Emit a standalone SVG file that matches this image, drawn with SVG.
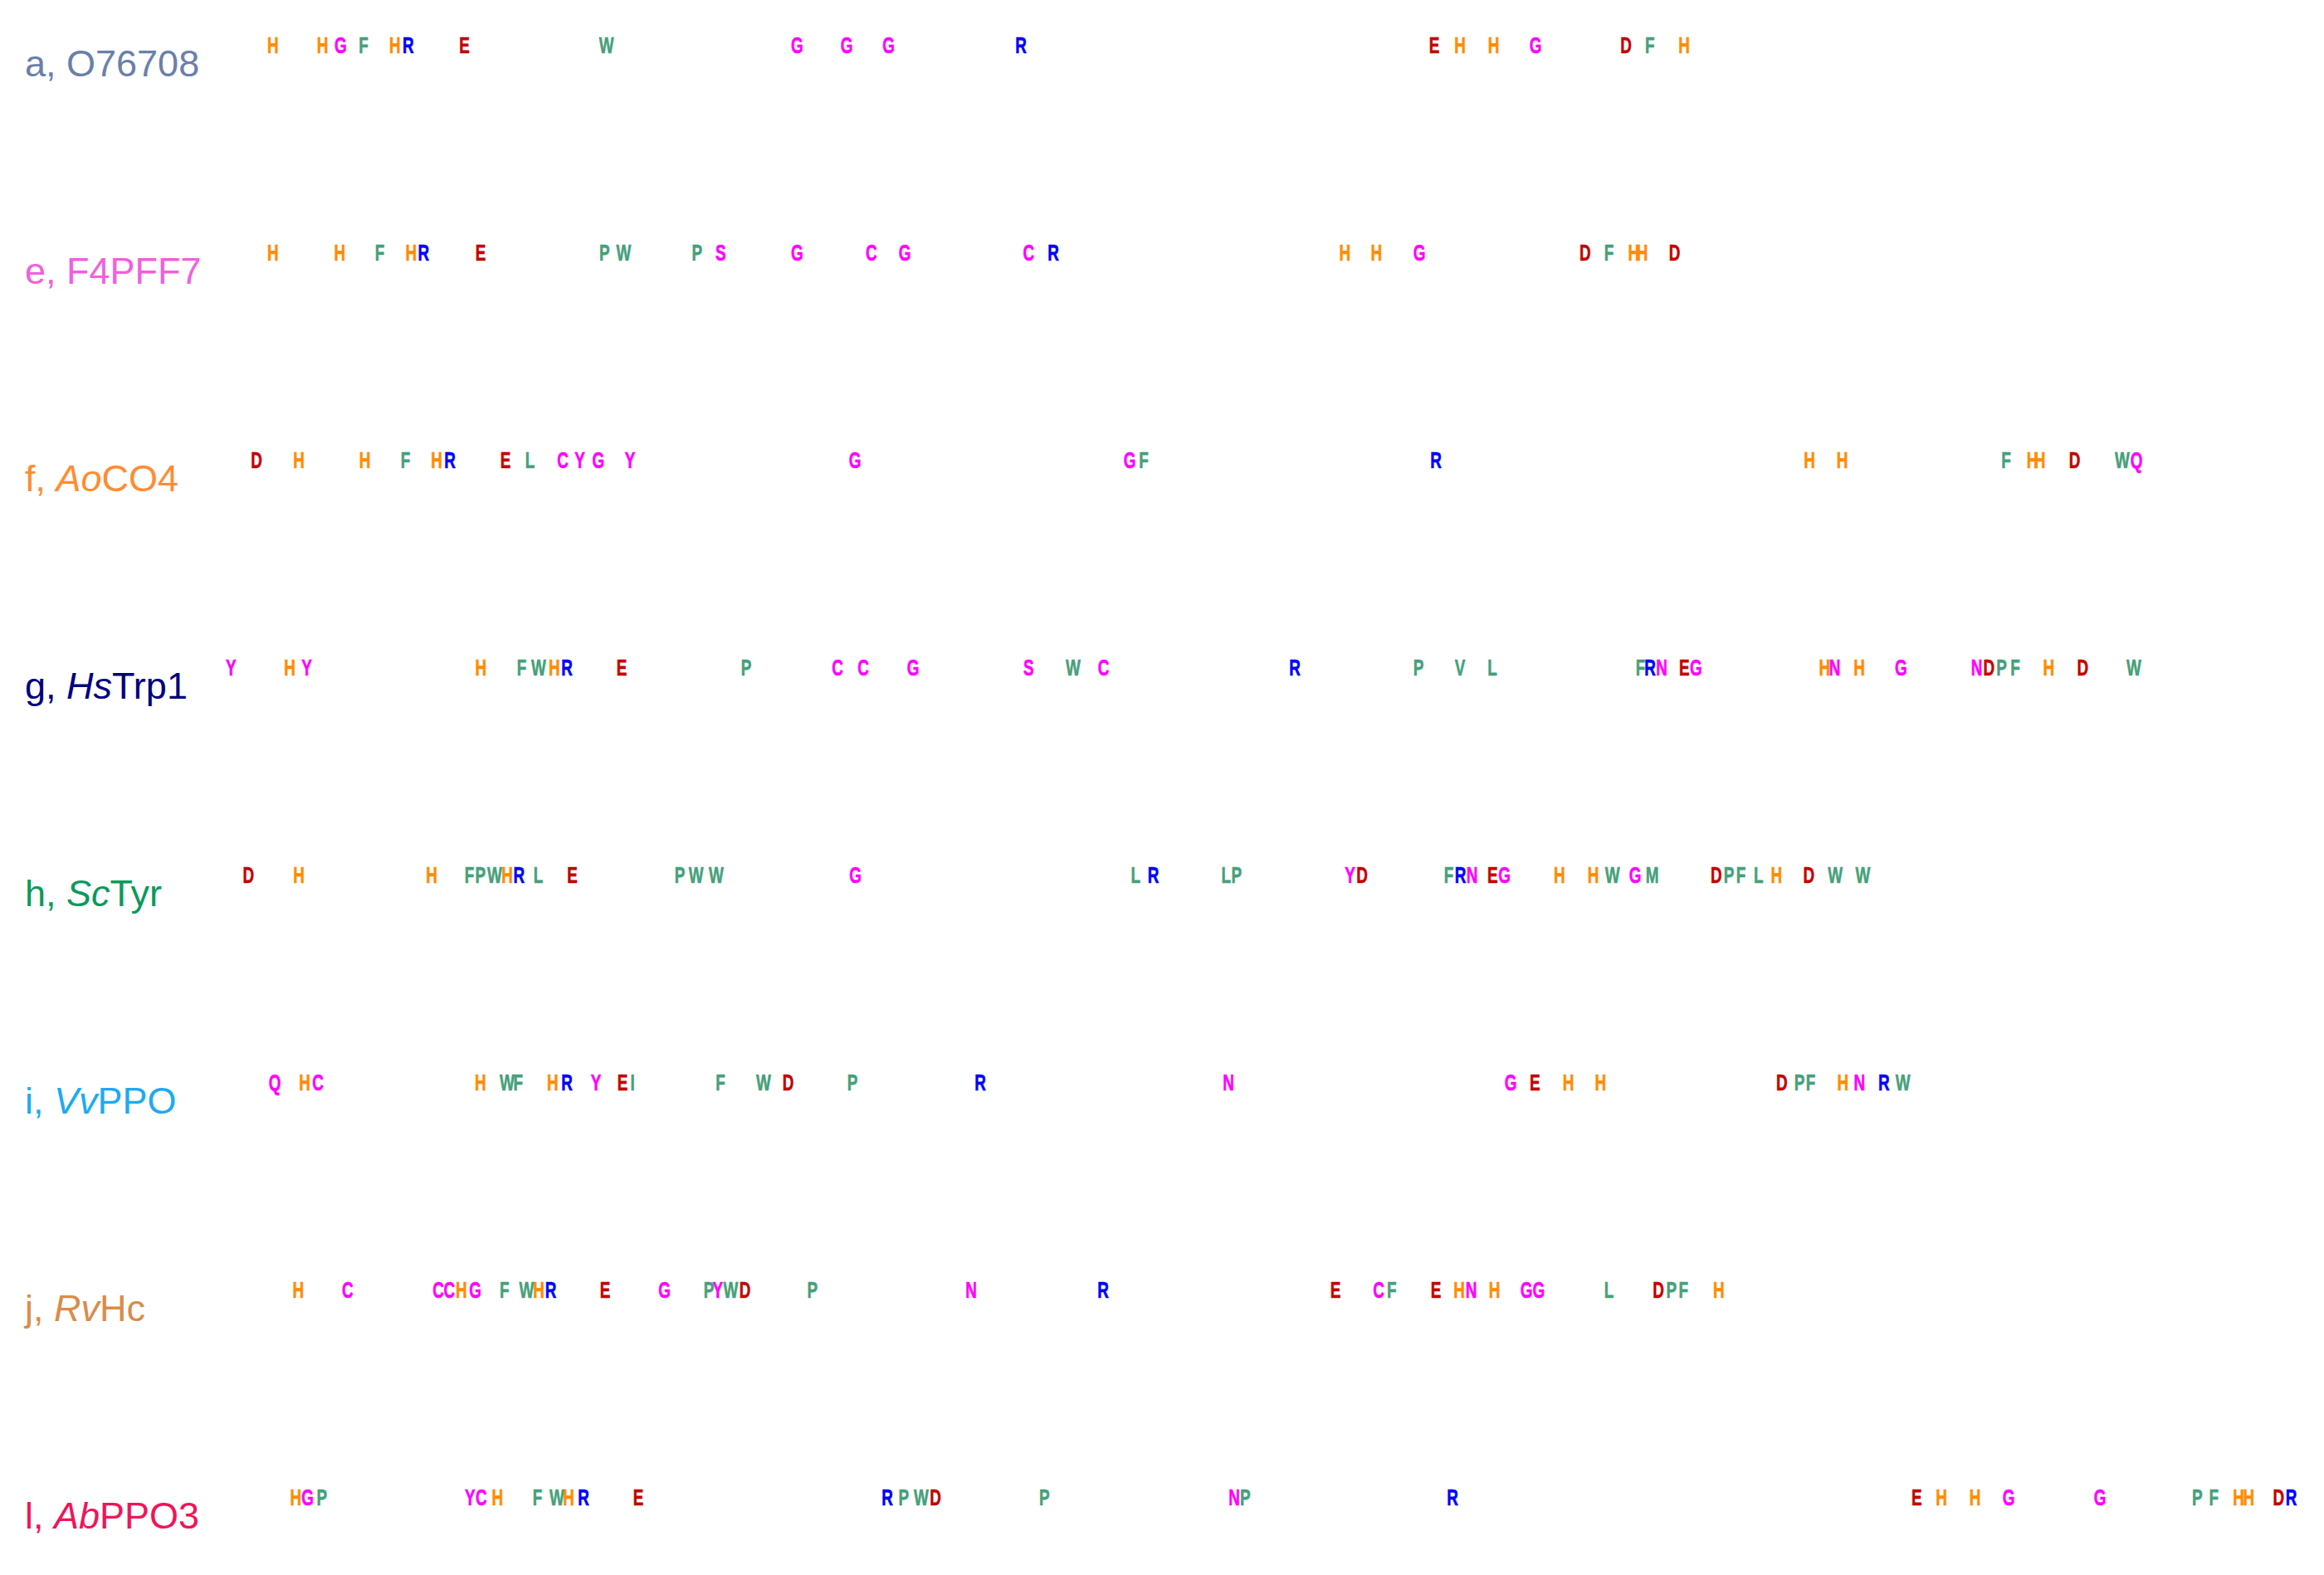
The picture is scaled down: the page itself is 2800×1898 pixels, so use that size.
<svg xmlns="http://www.w3.org/2000/svg" width="2800" height="1898" viewBox="0 0 2800 1898">
<style>
.lab{font-family:"Liberation Sans",Arial,sans-serif;font-size:45px}
.i{font-style:italic}
g.row text.o,g.row text.m,g.row text.g,g.row text.b,g.row text.r{font-family:"Liberation Sans",Arial,sans-serif;font-weight:bold;font-size:27px;text-anchor:middle;stroke-width:0.6px}
.o{fill:#FF8C00;stroke:#FF8C00}.m{fill:#FF00FF;stroke:#FF00FF}.g{fill:#46A07A;stroke:#46A07A}.b{fill:#0000FF;stroke:#0000FF}.r{fill:#C40000;stroke:#C40000}
</style>
<rect width="2800" height="1898" fill="#FFFFFF"/>
<g id="row-a" class="row">
<text class="lab" x="30" y="92" fill="#6A80AA" stroke="none">a, O76708</text>
<text class="o" transform="translate(328.9 64) scale(0.7 1)">H</text>
<text class="o" transform="translate(388.6 64) scale(0.7 1)">H</text>
<text class="m" transform="translate(410.4 64) scale(0.7 1)">G</text>
<text class="g" transform="translate(438 64) scale(0.7 1)">F</text>
<text class="o" transform="translate(475.8 64) scale(0.7 1)">H</text>
<text class="b" transform="translate(491.9 64) scale(0.7 1)">R</text>
<text class="r" transform="translate(559.6 64) scale(0.7 1)">E</text>
<text class="g" transform="translate(730.7 64) scale(0.7 1)">W</text>
<text class="m" transform="translate(960.3 64) scale(0.7 1)">G</text>
<text class="m" transform="translate(1020 64) scale(0.7 1)">G</text>
<text class="m" transform="translate(1070.5 64) scale(0.7 1)">G</text>
<text class="b" transform="translate(1230 64) scale(0.7 1)">R</text>
<text class="r" transform="translate(1728 64) scale(0.7 1)">E</text>
<text class="o" transform="translate(1759 64) scale(0.7 1)">H</text>
<text class="o" transform="translate(1799.5 64) scale(0.7 1)">H</text>
<text class="m" transform="translate(1850 64) scale(0.7 1)">G</text>
<text class="r" transform="translate(1959 64) scale(0.7 1)">D</text>
<text class="g" transform="translate(1987.7 64) scale(0.7 1)">F</text>
<text class="o" transform="translate(2029 64) scale(0.7 1)">H</text>
</g>
<g id="row-e" class="row">
<text class="lab" x="30" y="342" fill="#F060DC">e, F4PFF7</text>
<text class="o" transform="translate(328.9 314) scale(0.7 1)">H</text>
<text class="o" transform="translate(409.2 314) scale(0.7 1)">H</text>
<text class="g" transform="translate(457.5 314) scale(0.7 1)">F</text>
<text class="o" transform="translate(495.3 314) scale(0.7 1)">H</text>
<text class="b" transform="translate(510.3 314) scale(0.7 1)">R</text>
<text class="r" transform="translate(579.1 314) scale(0.7 1)">E</text>
<text class="g" transform="translate(728.4 314) scale(0.7 1)">P</text>
<text class="g" transform="translate(751.3 314) scale(0.7 1)">W</text>
<text class="g" transform="translate(839.7 314) scale(0.7 1)">P</text>
<text class="m" transform="translate(868.4 314) scale(0.7 1)">S</text>
<text class="m" transform="translate(960.3 314) scale(0.7 1)">G</text>
<text class="m" transform="translate(1049.8 314) scale(0.7 1)">C</text>
<text class="m" transform="translate(1090 314) scale(0.7 1)">G</text>
<text class="m" transform="translate(1239.2 314) scale(0.7 1)">C</text>
<text class="b" transform="translate(1269 314) scale(0.7 1)">R</text>
<text class="o" transform="translate(1620.4 314) scale(0.7 1)">H</text>
<text class="o" transform="translate(1658.3 314) scale(0.7 1)">H</text>
<text class="m" transform="translate(1710 314) scale(0.7 1)">G</text>
<text class="r" transform="translate(1909.7 314) scale(0.7 1)">D</text>
<text class="g" transform="translate(1938.4 314) scale(0.7 1)">F</text>
<text class="o" transform="translate(1968.2 314) scale(0.7 1)">H</text>
<text class="o" transform="translate(1978.6 314) scale(0.7 1)">H</text>
<text class="r" transform="translate(2017.6 314) scale(0.7 1)">D</text>
</g>
<g id="row-f" class="row">
<text class="lab" x="30" y="592" fill="#FF8C32">f, <tspan class="i">Ao</tspan>CO4</text>
<text class="r" transform="translate(309 564) scale(0.7 1)">D</text>
<text class="o" transform="translate(360 564) scale(0.7 1)">H</text>
<text class="o" transform="translate(439.5 564) scale(0.7 1)">H</text>
<text class="g" transform="translate(488.6 564) scale(0.7 1)">F</text>
<text class="o" transform="translate(526 564) scale(0.7 1)">H</text>
<text class="b" transform="translate(542 564) scale(0.7 1)">R</text>
<text class="r" transform="translate(609 564) scale(0.7 1)">E</text>
<text class="g" transform="translate(638.6 564) scale(0.7 1)">L</text>
<text class="m" transform="translate(678 564) scale(0.7 1)">C</text>
<text class="m" transform="translate(698.5 564) scale(0.7 1)">Y</text>
<text class="m" transform="translate(720.8 564) scale(0.7 1)">G</text>
<text class="m" transform="translate(759 564) scale(0.7 1)">Y</text>
<text class="m" transform="translate(1030 564) scale(0.7 1)">G</text>
<text class="m" transform="translate(1361 564) scale(0.7 1)">G</text>
<text class="g" transform="translate(1378 564) scale(0.7 1)">F</text>
<text class="b" transform="translate(1730 564) scale(0.7 1)">R</text>
<text class="o" transform="translate(2180 564) scale(0.7 1)">H</text>
<text class="o" transform="translate(2219.5 564) scale(0.7 1)">H</text>
<text class="g" transform="translate(2417 564) scale(0.7 1)">F</text>
<text class="o" transform="translate(2448.5 564) scale(0.7 1)">H</text>
<text class="o" transform="translate(2457.5 564) scale(0.7 1)">H</text>
<text class="r" transform="translate(2499.6 564) scale(0.7 1)">D</text>
<text class="g" transform="translate(2557 564) scale(0.7 1)">W</text>
<text class="m" transform="translate(2574 564) scale(0.7 1)">Q</text>
</g>
<g id="row-g" class="row">
<text class="lab" x="30" y="842" fill="#000080">g, <tspan class="i">Hs</tspan>Trp1</text>
<text class="m" transform="translate(278.4 814) scale(0.7 1)">Y</text>
<text class="o" transform="translate(349 814) scale(0.7 1)">H</text>
<text class="m" transform="translate(369.5 814) scale(0.7 1)">Y</text>
<text class="o" transform="translate(579.3 814) scale(0.7 1)">H</text>
<text class="g" transform="translate(628.5 814) scale(0.7 1)">F</text>
<text class="g" transform="translate(649 814) scale(0.7 1)">W</text>
<text class="o" transform="translate(667.7 814) scale(0.7 1)">H</text>
<text class="b" transform="translate(683 814) scale(0.7 1)">R</text>
<text class="r" transform="translate(749 814) scale(0.7 1)">E</text>
<text class="g" transform="translate(899 814) scale(0.7 1)">P</text>
<text class="m" transform="translate(1009 814) scale(0.7 1)">C</text>
<text class="m" transform="translate(1040 814) scale(0.7 1)">C</text>
<text class="m" transform="translate(1100 814) scale(0.7 1)">G</text>
<text class="m" transform="translate(1239.3 814) scale(0.7 1)">S</text>
<text class="g" transform="translate(1292.8 814) scale(0.7 1)">W</text>
<text class="m" transform="translate(1329.5 814) scale(0.7 1)">C</text>
<text class="b" transform="translate(1560 814) scale(0.7 1)">R</text>
<text class="g" transform="translate(1709 814) scale(0.7 1)">P</text>
<text class="g" transform="translate(1759 814) scale(0.7 1)">V</text>
<text class="g" transform="translate(1798 814) scale(0.7 1)">L</text>
<text class="g" transform="translate(1976.4 814) scale(0.7 1)">F</text>
<text class="b" transform="translate(1988 814) scale(0.7 1)">R</text>
<text class="m" transform="translate(2002 814) scale(0.7 1)">N</text>
<text class="r" transform="translate(2029.4 814) scale(0.7 1)">E</text>
<text class="m" transform="translate(2043.4 814) scale(0.7 1)">G</text>
<text class="o" transform="translate(2198.4 814) scale(0.7 1)">H</text>
<text class="m" transform="translate(2210.6 814) scale(0.7 1)">N</text>
<text class="o" transform="translate(2240 814) scale(0.7 1)">H</text>
<text class="m" transform="translate(2290.3 814) scale(0.7 1)">G</text>
<text class="m" transform="translate(2381.6 814) scale(0.7 1)">N</text>
<text class="r" transform="translate(2396.2 814) scale(0.7 1)">D</text>
<text class="g" transform="translate(2411.5 814) scale(0.7 1)">P</text>
<text class="g" transform="translate(2428 814) scale(0.7 1)">F</text>
<text class="o" transform="translate(2468.3 814) scale(0.7 1)">H</text>
<text class="r" transform="translate(2509.2 814) scale(0.7 1)">D</text>
<text class="g" transform="translate(2571 814) scale(0.7 1)">W</text>
</g>
<g id="row-h" class="row">
<text class="lab" x="30" y="1092" fill="#0A9A5C">h, <tspan class="i">Sc</tspan>Tyr</text>
<text class="r" transform="translate(299.3 1064) scale(0.7 1)">D</text>
<text class="o" transform="translate(360 1064) scale(0.7 1)">H</text>
<text class="o" transform="translate(520 1064) scale(0.7 1)">H</text>
<text class="g" transform="translate(565.4 1064) scale(0.7 1)">F</text>
<text class="g" transform="translate(578.8 1064) scale(0.7 1)">P</text>
<text class="g" transform="translate(595.8 1064) scale(0.7 1)">W</text>
<text class="o" transform="translate(611 1064) scale(0.7 1)">H</text>
<text class="b" transform="translate(625.2 1064) scale(0.7 1)">R</text>
<text class="g" transform="translate(648.5 1064) scale(0.7 1)">L</text>
<text class="r" transform="translate(689.5 1064) scale(0.7 1)">E</text>
<text class="g" transform="translate(819 1064) scale(0.7 1)">P</text>
<text class="g" transform="translate(838.7 1064) scale(0.7 1)">W</text>
<text class="g" transform="translate(862.8 1064) scale(0.7 1)">W</text>
<text class="m" transform="translate(1030.7 1064) scale(0.7 1)">G</text>
<text class="g" transform="translate(1368.2 1064) scale(0.7 1)">L</text>
<text class="b" transform="translate(1389.6 1064) scale(0.7 1)">R</text>
<text class="g" transform="translate(1477.2 1064) scale(0.7 1)">L</text>
<text class="g" transform="translate(1489.7 1064) scale(0.7 1)">P</text>
<text class="m" transform="translate(1626.5 1064) scale(0.7 1)">Y</text>
<text class="r" transform="translate(1641 1064) scale(0.7 1)">D</text>
<text class="g" transform="translate(1745.5 1064) scale(0.7 1)">F</text>
<text class="b" transform="translate(1759.5 1064) scale(0.7 1)">R</text>
<text class="m" transform="translate(1773.5 1064) scale(0.7 1)">N</text>
<text class="r" transform="translate(1798.4 1064) scale(0.7 1)">E</text>
<text class="m" transform="translate(1812.5 1064) scale(0.7 1)">G</text>
<text class="o" transform="translate(1878.8 1064) scale(0.7 1)">H</text>
<text class="o" transform="translate(1919.6 1064) scale(0.7 1)">H</text>
<text class="g" transform="translate(1942.6 1064) scale(0.7 1)">W</text>
<text class="m" transform="translate(1970 1064) scale(0.7 1)">G</text>
<text class="g" transform="translate(1990.5 1064) scale(0.7 1)">M</text>
<text class="r" transform="translate(2067.7 1064) scale(0.7 1)">D</text>
<text class="g" transform="translate(2083 1064) scale(0.7 1)">P</text>
<text class="g" transform="translate(2097.6 1064) scale(0.7 1)">F</text>
<text class="g" transform="translate(2118.7 1064) scale(0.7 1)">L</text>
<text class="o" transform="translate(2140.4 1064) scale(0.7 1)">H</text>
<text class="r" transform="translate(2179.3 1064) scale(0.7 1)">D</text>
<text class="g" transform="translate(2211.2 1064) scale(0.7 1)">W</text>
<text class="g" transform="translate(2244.4 1064) scale(0.7 1)">W</text>
</g>
<g id="row-i" class="row">
<text class="lab" x="30" y="1342" fill="#1EAAF0">i, <tspan class="i">Vv</tspan>PPO</text>
<text class="m" transform="translate(331 1314) scale(0.7 1)">Q</text>
<text class="o" transform="translate(367 1314) scale(0.7 1)">H</text>
<text class="m" transform="translate(383 1314) scale(0.7 1)">C</text>
<text class="o" transform="translate(578.7 1314) scale(0.7 1)">H</text>
<text class="g" transform="translate(610.8 1314) scale(0.7 1)">W</text>
<text class="g" transform="translate(624.2 1314) scale(0.7 1)">F</text>
<text class="o" transform="translate(665.7 1314) scale(0.7 1)">H</text>
<text class="b" transform="translate(683 1314) scale(0.7 1)">R</text>
<text class="m" transform="translate(718 1314) scale(0.7 1)">Y</text>
<text class="r" transform="translate(750 1314) scale(0.7 1)">E</text>
<text class="g" transform="translate(762 1314) scale(0.7 1)">I</text>
<text class="g" transform="translate(868 1314) scale(0.7 1)">F</text>
<text class="g" transform="translate(920 1314) scale(0.7 1)">W</text>
<text class="r" transform="translate(949.6 1314) scale(0.7 1)">D</text>
<text class="g" transform="translate(1027 1314) scale(0.7 1)">P</text>
<text class="b" transform="translate(1181 1314) scale(0.7 1)">R</text>
<text class="m" transform="translate(1480 1314) scale(0.7 1)">N</text>
<text class="m" transform="translate(1820 1314) scale(0.7 1)">G</text>
<text class="r" transform="translate(1849.4 1314) scale(0.7 1)">E</text>
<text class="o" transform="translate(1889.6 1314) scale(0.7 1)">H</text>
<text class="o" transform="translate(1928.4 1314) scale(0.7 1)">H</text>
<text class="r" transform="translate(2146.7 1314) scale(0.7 1)">D</text>
<text class="g" transform="translate(2168 1314) scale(0.7 1)">P</text>
<text class="g" transform="translate(2181.5 1314) scale(0.7 1)">F</text>
<text class="o" transform="translate(2220.3 1314) scale(0.7 1)">H</text>
<text class="m" transform="translate(2240.4 1314) scale(0.7 1)">N</text>
<text class="b" transform="translate(2269.8 1314) scale(0.7 1)">R</text>
<text class="g" transform="translate(2292.6 1314) scale(0.7 1)">W</text>
</g>
<g id="row-j" class="row">
<text class="lab" x="30" y="1592" fill="#D98C4A">j, <tspan class="i">Rv</tspan>Hc</text>
<text class="o" transform="translate(359.4 1564) scale(0.7 1)">H</text>
<text class="m" transform="translate(418.8 1564) scale(0.7 1)">C</text>
<text class="m" transform="translate(528 1564) scale(0.7 1)">C</text>
<text class="m" transform="translate(541.2 1564) scale(0.7 1)">C</text>
<text class="o" transform="translate(555.7 1564) scale(0.7 1)">H</text>
<text class="m" transform="translate(572.7 1564) scale(0.7 1)">G</text>
<text class="g" transform="translate(607.8 1564) scale(0.7 1)">F</text>
<text class="g" transform="translate(634.5 1564) scale(0.7 1)">W</text>
<text class="o" transform="translate(649 1564) scale(0.7 1)">H</text>
<text class="b" transform="translate(663.6 1564) scale(0.7 1)">R</text>
<text class="r" transform="translate(729 1564) scale(0.7 1)">E</text>
<text class="m" transform="translate(800.6 1564) scale(0.7 1)">G</text>
<text class="g" transform="translate(854 1564) scale(0.7 1)">P</text>
<text class="m" transform="translate(864.8 1564) scale(0.7 1)">Y</text>
<text class="g" transform="translate(880.5 1564) scale(0.7 1)">W</text>
<text class="r" transform="translate(897.5 1564) scale(0.7 1)">D</text>
<text class="g" transform="translate(978.7 1564) scale(0.7 1)">P</text>
<text class="m" transform="translate(1170 1564) scale(0.7 1)">N</text>
<text class="b" transform="translate(1329 1564) scale(0.7 1)">R</text>
<text class="r" transform="translate(1609 1564) scale(0.7 1)">E</text>
<text class="m" transform="translate(1661 1564) scale(0.7 1)">C</text>
<text class="g" transform="translate(1676.8 1564) scale(0.7 1)">F</text>
<text class="r" transform="translate(1730 1564) scale(0.7 1)">E</text>
<text class="o" transform="translate(1758 1564) scale(0.7 1)">H</text>
<text class="m" transform="translate(1772.6 1564) scale(0.7 1)">N</text>
<text class="o" transform="translate(1800.5 1564) scale(0.7 1)">H</text>
<text class="m" transform="translate(1839.2 1564) scale(0.7 1)">G</text>
<text class="m" transform="translate(1853.8 1564) scale(0.7 1)">G</text>
<text class="g" transform="translate(1938.6 1564) scale(0.7 1)">L</text>
<text class="r" transform="translate(1998 1564) scale(0.7 1)">D</text>
<text class="g" transform="translate(2013.8 1564) scale(0.7 1)">P</text>
<text class="g" transform="translate(2028.3 1564) scale(0.7 1)">F</text>
<text class="o" transform="translate(2070.7 1564) scale(0.7 1)">H</text>
</g>
<g id="row-l" class="row">
<text class="lab" x="30" y="1842" fill="#F0145A">l, <tspan class="i">Ab</tspan>PPO3</text>
<text class="o" transform="translate(356.4 1814) scale(0.7 1)">H</text>
<text class="m" transform="translate(370.7 1814) scale(0.7 1)">G</text>
<text class="g" transform="translate(387.7 1814) scale(0.7 1)">P</text>
<text class="m" transform="translate(566.3 1814) scale(0.7 1)">Y</text>
<text class="m" transform="translate(579.7 1814) scale(0.7 1)">C</text>
<text class="o" transform="translate(599.3 1814) scale(0.7 1)">H</text>
<text class="g" transform="translate(647.6 1814) scale(0.7 1)">F</text>
<text class="g" transform="translate(670.8 1814) scale(0.7 1)">W</text>
<text class="o" transform="translate(685 1814) scale(0.7 1)">H</text>
<text class="b" transform="translate(703 1814) scale(0.7 1)">R</text>
<text class="r" transform="translate(769 1814) scale(0.7 1)">E</text>
<text class="b" transform="translate(1069 1814) scale(0.7 1)">R</text>
<text class="g" transform="translate(1088.7 1814) scale(0.7 1)">P</text>
<text class="g" transform="translate(1110 1814) scale(0.7 1)">W</text>
<text class="r" transform="translate(1127 1814) scale(0.7 1)">D</text>
<text class="g" transform="translate(1258.4 1814) scale(0.7 1)">P</text>
<text class="m" transform="translate(1487 1814) scale(0.7 1)">N</text>
<text class="g" transform="translate(1500.4 1814) scale(0.7 1)">P</text>
<text class="b" transform="translate(1750 1814) scale(0.7 1)">R</text>
<text class="r" transform="translate(2309.4 1814) scale(0.7 1)">E</text>
<text class="o" transform="translate(2339 1814) scale(0.7 1)">H</text>
<text class="o" transform="translate(2379.6 1814) scale(0.7 1)">H</text>
<text class="m" transform="translate(2420 1814) scale(0.7 1)">G</text>
<text class="m" transform="translate(2530.2 1814) scale(0.7 1)">G</text>
<text class="g" transform="translate(2647.3 1814) scale(0.7 1)">P</text>
<text class="g" transform="translate(2667.2 1814) scale(0.7 1)">F</text>
<text class="o" transform="translate(2697 1814) scale(0.7 1)">H</text>
<text class="o" transform="translate(2709.3 1814) scale(0.7 1)">H</text>
<text class="r" transform="translate(2745.2 1814) scale(0.7 1)">D</text>
<text class="b" transform="translate(2760.5 1814) scale(0.7 1)">R</text>
</g>
</svg>
